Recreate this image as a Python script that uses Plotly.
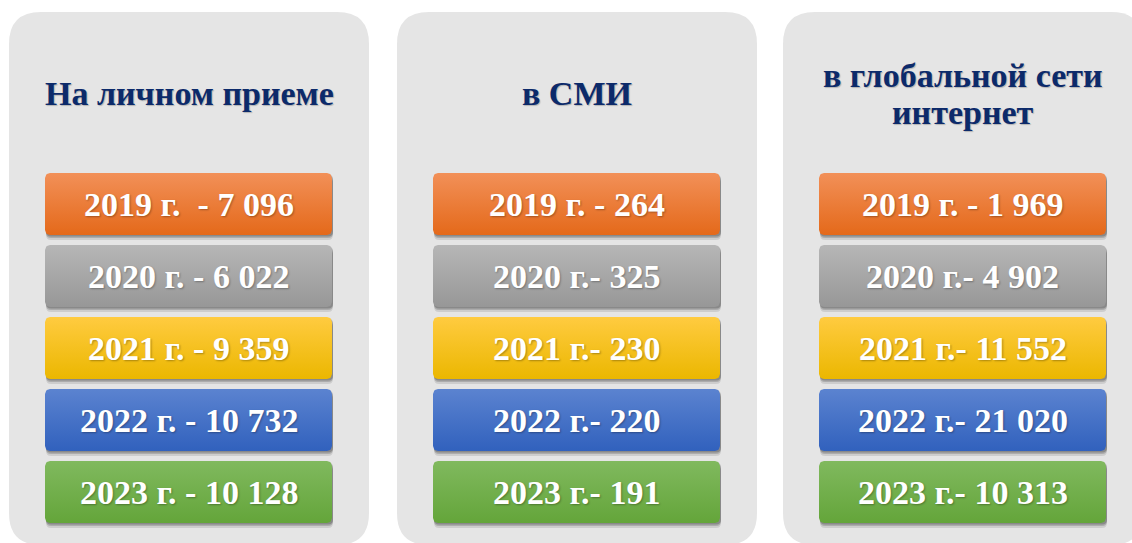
import plotly.graph_objects as go
import numpy as np

# ---- data ----
panel_titles = [["На личном приеме"], ["в СМИ"], ["в глобальной сети", "интернет"]]
years = [2019, 2020, 2021, 2022, 2023]
values_personal = [7096, 6022, 9359, 10732, 10128]
values_media = [264, 325, 230, 220, 191]
values_internet = [1969, 4902, 11552, 21020, 10313]
separators_personal = [" г.  - ", " г. - ", " г. - ", " г. - ", " г. - "]
separators_media = [" г. - ", " г.- ", " г.- ", " г.- ", " г.- "]
separators_internet = [" г. - ", " г.- ", " г.- ", " г.- ", " г.- "]

panel_values = [values_personal, values_media, values_internet]
panel_seps = [separators_personal, separators_media, separators_internet]

# ---- style ----
W, H = 1132, 543
panel_left = [9, 397, 783]
panel_w = 360
panel_top, panel_bottom = 12, 545
panel_r = 32
panel_fill = "#e5e5e5"
box_dx, box_w = 36, 287
box_top0, box_pitch, box_h = 173, 72, 62
box_r = 5
title_y = [[93], [93], [75, 112]]
title_color = "#0c2a6a"
# (top colour, bottom colour) per year
grad = [("#f29058", "#e4691a"),
        ("#b6b6b6", "#979797"),
        ("#ffcb40", "#ebb700"),
        ("#5b83d0", "#3161bd"),
        ("#80b95e", "#64a53a")]
FONT = "Liberation Serif, Times New Roman, serif"


def fmt(v):
    return f"{v:,}".replace(",", " ")


def rr_path(x0, y0, x1, y1, r):
    return (f"M {x0+r},{y0} L {x1-r},{y0} Q {x1},{y0} {x1},{y0+r} "
            f"L {x1},{y1-r} Q {x1},{y1} {x1-r},{y1} L {x0+r},{y1} "
            f"Q {x0},{y1} {x0},{y1-r} L {x0},{y0+r} Q {x0},{y0} {x0+r},{y0} Z")


def rr_points(x0, y0, x1, y1, r, n=8):
    xs, ys = [], []
    corners = [(x1 - r, y0 + r, -np.pi/2, 0), (x1 - r, y1 - r, 0, np.pi/2),
               (x0 + r, y1 - r, np.pi/2, np.pi), (x0 + r, y0 + r, np.pi, 1.5*np.pi)]
    for cx, cy, a0, a1 in corners:
        for a in np.linspace(a0, a1, n):
            xs.append(cx + r*np.cos(a))
            ys.append(cy + r*np.sin(a))
    xs.append(xs[0]); ys.append(ys[0])
    return xs, ys


fig = go.Figure()
shapes = []
annotations = []

for p in range(3):
    pl = panel_left[p]
    shapes.append(dict(type="path", path=rr_path(pl, panel_top, pl + panel_w, panel_bottom, panel_r),
                       fillcolor=panel_fill, line=dict(width=0), layer="below"))
    for line, ty in zip(panel_titles[p], title_y[p]):
        annotations.append(dict(x=pl + panel_w/2, y=ty, text=line, showarrow=False,
                                xref="x", yref="y", xanchor="center", yanchor="middle",
                                font=dict(family=FONT, size=34, color=title_color, weight="bold",
                                          shadow="1px 1px 1px rgba(0,0,0,0.22)")))
    for i, (yr, v) in enumerate(zip(years, panel_values[p])):
        x0 = pl + box_dx
        x1 = x0 + box_w
        y0 = box_top0 + i*box_pitch
        y1 = y0 + box_h
        # shadow
        for off, a in [(5, 0.10), (3, 0.16), (1.5, 0.2)]:
            shapes.append(dict(type="path", path=rr_path(x0 + 1, y0 + off, x1 + 1, y1 + off, box_r),
                               fillcolor=f"rgba(0,0,0,{a})", line=dict(width=0), layer="below"))
        xs, ys = rr_points(x0, y0, x1, y1, box_r)
        top_c, bot_c = grad[i]
        fig.add_trace(go.Scatter(x=xs, y=ys, mode="lines", fill="toself",
                                 line=dict(width=0, color=bot_c),
                                 fillgradient=dict(type="vertical", start=y0, stop=y1,
                                                   colorscale=[[0, top_c], [1, bot_c]]),
                                 hoverinfo="skip", showlegend=False))
        annotations.append(dict(x=(x0 + x1)/2, y=(y0 + y1)/2, text=f"{yr}{panel_seps[p][i]}{fmt(v)}",
                                showarrow=False, xref="x", yref="y", xanchor="center", yanchor="middle",
                                font=dict(family=FONT, size=34, color="white", weight="bold",
                                          shadow="1px 1px 2px rgba(0,0,0,0.3)")))

fig.update_layout(
    width=W, height=H, margin=dict(l=0, r=0, t=0, b=0),
    paper_bgcolor="white", plot_bgcolor="white",
    xaxis=dict(range=[0, W], visible=False, fixedrange=True),
    yaxis=dict(range=[H, 0], visible=False, fixedrange=True),
    shapes=shapes, annotations=annotations, showlegend=False,
)
fig.write_html("out.html", config={"displayModeBar": False},
               post_script="document.body.style.margin='0';document.body.style.overflow='hidden';")
